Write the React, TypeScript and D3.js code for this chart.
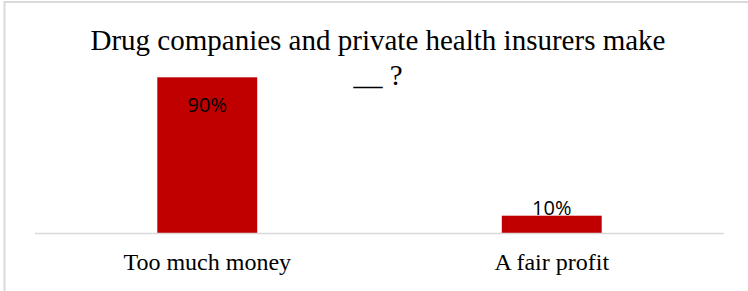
import { useEffect, useRef } from 'react'
import * as d3 from 'd3'

const categories = ['Too much money', 'A fair profit']
const values = [90, 10]
const valueLabels = ['90%', '10%']
const titleLines = ['Drug companies and private health insurers make', '__ ?']

export default function App() {
  const svgRef = useRef<SVGSVGElement>(null)

  useEffect(() => {
    if (!svgRef.current) return
    const svg = d3.select(svgRef.current)
    svg.selectAll('*').remove()

    const width = 748
    const height = 291

    // outer chart border
    svg.append('rect')
      .attr('x', 4.5)
      .attr('y', 2)
      .attr('width', width + 10)
      .attr('height', height + 10)
      .attr('fill', '#fff')
      .attr('stroke', '#d9d9d9')
      .attr('stroke-width', 2)

    // title
    const title = svg.append('text')
      .attr('text-anchor', 'middle')
      .style('font-family', '"Liberation Serif", "Times New Roman", serif')
      .style('font-size', '29px')
      .style('fill', '#000')
    titleLines.forEach((line, i) => {
      title.append('tspan')
        .attr('x', 378)
        .attr('y', 50 + i * 35)
        .text(line)
    })

    const x = d3.scaleBand<string>()
      .domain(categories)
      .range([35, 724])
      .paddingInner(0.71)
      .paddingOuter(0.355)

    const y = d3.scaleLinear()
      .domain([0, 100])
      .range([233, 60])

    // bars
    svg.selectAll('.bar')
      .data(values)
      .enter().append('rect')
      .attr('class', 'bar')
      .attr('x', (d, i) => x(categories[i])!)
      .attr('y', d => y(d))
      .attr('width', x.bandwidth())
      .attr('height', d => y(0) - y(d))
      .attr('fill', '#c00000')

    // baseline
    svg.append('line')
      .attr('x1', 35)
      .attr('x2', 724)
      .attr('y1', y(0) + 0.5)
      .attr('y2', y(0) + 0.5)
      .attr('stroke', '#d9d9d9')
      .attr('stroke-width', 1.5)

    // value labels
    svg.selectAll('.val')
      .data(values)
      .enter().append('text')
      .attr('class', 'val')
      .attr('x', (d, i) => x(categories[i])! + x.bandwidth() / 2)
      .attr('y', d => d > 50 ? y(d) + 35 : y(d) - 1)
      .attr('text-anchor', 'middle')
      .style('font-family', '"Open Sans", "Liberation Sans", sans-serif')
      .style('font-size', '20px')
      .style('fill', '#000')
      .text((d, i) => valueLabels[i])

    // category labels
    svg.selectAll('.cat')
      .data(categories)
      .enter().append('text')
      .attr('class', 'cat')
      .attr('x', d => x(d)! + x.bandwidth() / 2)
      .attr('y', 270)
      .attr('text-anchor', 'middle')
      .style('font-family', '"Liberation Serif", "Times New Roman", serif')
      .style('font-size', '24px')
      .style('fill', '#000')
      .text(d => d)
  }, [])

  return (
    <div style={{ position: 'absolute', left: 0, top: 0 }}>
      <svg ref={svgRef} width={748} height={291} style={{ display: 'block' }} />
    </div>
  )
}
